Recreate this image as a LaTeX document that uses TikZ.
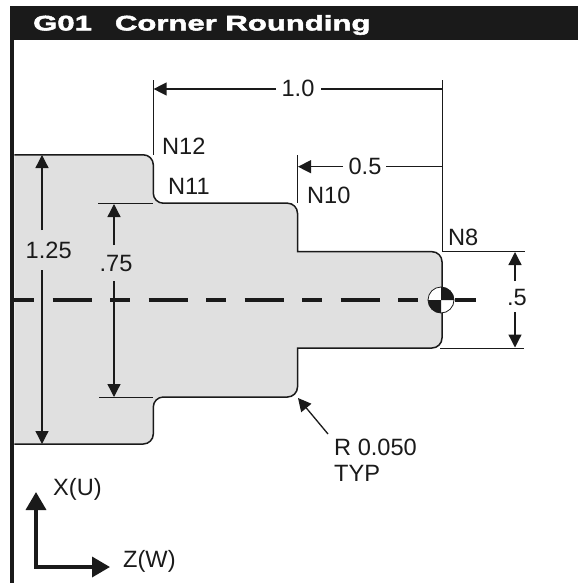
\documentclass[tikz,border=0pt]{standalone}
\usepackage{fontspec}
\setmainfont{Liberation Sans}
\newfontfamily\titlefont[FakeStretch=1.48,FakeBold=2.5]{Liberation Sans Bold}
\usetikzlibrary{arrows.meta}
\definecolor{ink}{HTML}{1A1A1A}
\definecolor{partgray}{HTML}{E0E0E0}
\tikzset{
  x=1pt,y=-1pt,
  lbl/.style={inner sep=0pt,text=ink,font=\fontsize{23.6}{25}\selectfont},
  lblw/.style={lbl,anchor=west},
  extline/.style={draw=ink,line width=0.9pt},
  dimline/.style={draw=ink,line width=1.3pt},
  dimarrow/.style={dimline,-{Triangle[length=13pt,width=13pt]},shorten >=0pt},
  axisarrow/.style={draw=ink,line width=3.5pt,-{Triangle[length=18pt,width=20pt]}},
  outline/.style={draw=ink,line width=1.5pt,fill=partgray},
  centerline/.style={draw=ink,line width=3.5pt},
}
\begin{document}
\begin{tikzpicture}
\useasboundingbox (0,0) rectangle (578,584);
% frame
\fill[ink] (10,6) rectangle (578,40);
\fill[ink] (10,40) rectangle (14.3,583);
\node[inner sep=0pt,anchor=west,text=white,font=\titlefont\fontsize{21}{23}\selectfont] (title) at (33,25) {G01\hspace{23pt}Corner Rounding};
% part
\draw[outline,rounded corners=10pt]
  (14.3,154.8) -- (153.3,154.8) -- (153.3,203.2) -- (297.5,203.2)
  [sharp corners] -- (297.5,251.7)
  [rounded corners=10pt] -- (442,251.7) -- (442,348) [sharp corners] -- (297.5,348)
  [rounded corners=10pt] -- (297.5,397) -- (153.3,397) -- (153.3,444) -- (14.3,444);
% named points
\coordinate (e1t) at (153.3,80);   \coordinate (e1b) at (153.3,154.8);
\coordinate (e2t) at (442,80);     \coordinate (e2b) at (442,251.7);
\coordinate (e3t) at (297.5,155);  \coordinate (e3b) at (297.5,203.2);
\coordinate (e4r) at (525,251.7);
\coordinate (e5l) at (440,348.3);  \coordinate (e5r) at (524,348.3);
\coordinate (e6l) at (98,203.8);   \coordinate (e6r) at (153.3,203.8);
\coordinate (e7l) at (99,397);     \coordinate (e7r) at (153.3,397);
\draw[extline] (e1t) -- (e1b);
\draw[extline] (e2t) -- (e2b) -- (e4r);
\draw[extline] (e3t) -- (e3b);
\draw[extline] (e5l) -- (e5r);
\draw[extline] (e6l) -- (e6r);
\draw[extline] (e7l) -- (e7r);
% labels
\node[lbl] (d10) at (298,88) {1.0};
\node[lbl] (d05) at (365,166) {0.5};
\node[lbl] (d125) at (48.7,250) {1.25};
\node[lbl] (d75) at (116,263) {.75};
\node[lbl] (d5) at (517,297) {.5};
\node[lblw] (n12) at (162,146) {N12};
\node[lblw] (n11) at (168,186) {N11};
\node[lblw] (n10) at (307,195) {N10};
\node[lblw] (n8) at (448,237) {N8};
\node[lblw] (xu) at (53,489) {X(U)};
\node[lblw] (zw) at (123,561) {Z(W)};
\node[lblw] (rad) at (334,447) {R 0.050};
\node[lblw] (typ) at (334,473) {TYP};
% dimension arrows
\coordinate (a1) at (276,89);  \coordinate (a1t) at (153.6,89);
\coordinate (a1r) at (321,89); \coordinate (a1e) at (442,89);
\draw[dimarrow] (a1) -- (a1t);
\draw[dimline] (a1r) -- (a1e);
\coordinate (a2) at (343,166.7);  \coordinate (a2t) at (298,166.7);
\coordinate (a2r) at (386,166.7); \coordinate (a2e) at (442,166.7);
\draw[dimarrow] (a2) -- (a2t);
\draw[dimline] (a2r) -- (a2e);
\coordinate (a3) at (42,230);  \coordinate (a3t) at (42,155);
\coordinate (a3b) at (42,270); \coordinate (a3e) at (42,444);
\draw[dimarrow] (a3) -- (a3t);
\draw[dimarrow] (a3b) -- (a3e);
\coordinate (a4) at (114,245);  \coordinate (a4t) at (114,204);
\coordinate (a4b) at (114,281); \coordinate (a4e) at (114,397);
\draw[dimarrow] (a4) -- (a4t);
\draw[dimarrow] (a4b) -- (a4e);
\coordinate (a5) at (515,281);  \coordinate (a5t) at (515,252);
\coordinate (a5b) at (515,312); \coordinate (a5e) at (515,347.5);
\draw[dimarrow] (a5) -- (a5t);
\draw[dimarrow] (a5b) -- (a5e);
\coordinate (lead) at (328,434); \coordinate (leadt) at (298,398);
\draw[dimarrow] (lead) -- (leadt);
% centre line
\coordinate (c0) at (14.3,300); \coordinate (c1) at (418,300);
\draw[centerline,dash pattern=on 19.5pt off 18.7pt on 39pt off 18.8pt] (c0) -- (c1);
\coordinate (c2) at (455,300); \coordinate (c3) at (476,300);
\draw[centerline] (c2) -- (c3);
% datum symbol
\coordinate (dat) at (441,300);
\fill[white] (dat) circle[radius=13];
\fill[ink] (dat) -- (441,287) arc[start angle=-90,end angle=0,radius=13] -- cycle;
\fill[ink] (dat) -- (441,313) arc[start angle=90,end angle=180,radius=13] -- cycle;
\draw[ink,line width=0.8pt] (dat) circle[radius=13];
% axes
\coordinate (ox) at (36,567); \coordinate (oxt) at (36,492); \coordinate (ozt) at (110,567);
\draw[axisarrow] ([yshift=1.75pt]ox) -- (oxt);
\draw[axisarrow] ([xshift=-1.75pt]ox) -- (ozt);
\end{tikzpicture}
\end{document}
